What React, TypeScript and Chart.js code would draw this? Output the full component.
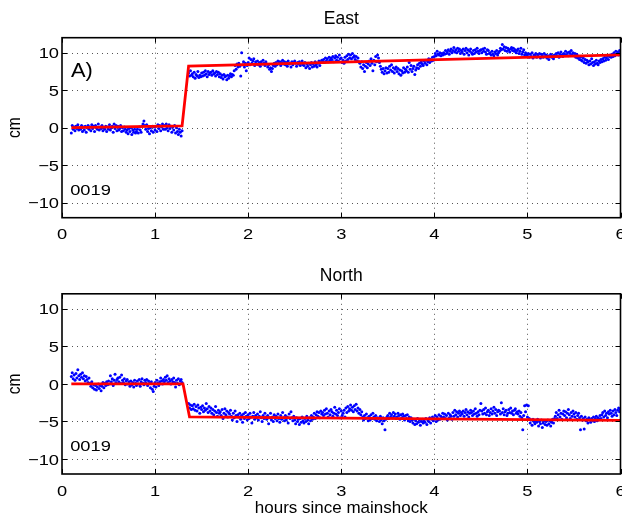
import React, { useEffect, useRef } from "react";
import { Chart, registerables } from "chart.js";

Chart.register(...registerables);

// ---------- axes ----------
const X_MIN = 0;
const X_MAX = 6;
const Y_MIN = -12;
const Y_MAX = 12;
const X_TICKS = [0, 1, 2, 3, 4, 5, 6];
const X_TICK_LABELS = ["0", "1", "2", "3", "4", "5", "6"];
const Y_TICKS = [-10, -5, 0, 5, 10];
const Y_TICK_LABELS = ["\u221210", "\u22125", "0", "5", "10"];

const X_LABEL = "hours since mainshock";
const Y_LABEL = "cm";
const STATION = "0019";
const PANEL_TAG = "A)";
const TITLES = ["East", "North"];

// ---------- epochs (hours) ----------
const SAMPLE_STEP = 0.01; // hours between GPS epochs
const PRE_START = 0.1; // first epoch before the offset
const POST_START = 1.36; // first epoch after the offset

// ---------- East component (cm) ----------
const eastPre = [
  -0.7, 0.3, -0.2, 0.1, -0.4, 0.2, -0.1, 0.4, -0.3, 0.0,
  -0.2, 0.3, -0.5, 0.1, -0.3, 0.2, -0.6, 0.0, 0.3, -0.2,
  0.1, -0.4, 0.4, -0.1, 0.2, -0.5, 0.3, 0.0, -0.2, 0.5,
  -0.3, 0.1, -0.1, 0.3, -0.4, 0.0, -0.2, 0.2, -0.5, 0.1,
  -0.2, 0.4, -0.3, 0.0, 0.2, -0.6, 0.5, -0.1, 0.3, -0.4,
  0.2, -0.3, -0.1, 0.3, -0.5, 0.0, -0.4, 0.1, -0.2, -0.6,
  -0.3, -0.8, -0.1, -0.5, 0.0, -0.9, -0.3, -0.6, -0.2, -0.7,
  -0.5, -0.2, -0.7, 0.1, -0.3, -0.6, 0.2, 0.5, 0.9, 0.3,
  -0.2, 0.4, -0.5, -0.1, -0.8, 0.0, -0.4, 0.2, -0.6, 0.1,
  -0.3, 0.2, -0.5, 0.4, -0.1, 0.3, -0.4, 0.1, 0.5, -0.2,
  0.3, -0.2, 0.5, 0.0, -0.4, 0.4, -0.1, 0.2, -0.6, 0.1,
  -0.3, 0.3, -0.7, 0.0, -0.5, -0.9, -0.2, -0.6, -1.1, -0.4,
];

const eastPost = [
  7.3, 6.9, 7.6, 7.0,
  7.2, 6.8, 7.4, 6.6, 7.1, 6.9, 7.5, 6.7, 7.0, 6.8,
  7.3, 6.9, 7.4, 7.0, 7.6, 7.2, 6.8, 7.5, 7.1, 7.3,
  7.4, 7.0, 7.6, 7.2, 7.3, 6.9, 7.5, 7.1, 7.4, 6.8,
  7.2, 6.7, 7.0, 6.5, 7.1, 6.8, 6.9, 6.4, 7.0, 6.6,
  6.9, 7.2, 6.8, 7.1, 7.0, 7.6, 8.3, 7.8, 8.5, 8.1,
  8.6, 8.2, 6.9, 10.0, 8.4, 8.8, 8.1, 8.6, 7.6, 8.3,
  8.7, 9.3, 8.4, 9.1, 8.6, 8.9, 9.2, 8.3, 8.8, 8.5,
  8.9, 8.4, 8.7, 8.2, 8.8, 8.5, 9.0, 8.6, 8.3, 8.8,
  8.5, 8.1, 8.4, 7.8, 8.0, 7.5, 7.9, 8.3, 8.6, 8.2,
  8.7, 8.4, 8.9, 8.6, 8.8, 8.3, 8.7, 9.0, 8.5, 8.8,
  8.4, 8.7, 8.2, 8.9, 8.5, 8.6, 8.1, 8.8, 8.4, 8.7,
  8.9, 8.6, 8.2, 8.7, 8.5, 8.8, 8.3, 8.6, 8.9, 8.4,
  8.3, 8.7, 8.0, 8.5, 8.2, 8.6, 7.9, 8.4, 8.7, 8.1,
  8.5, 8.2, 8.8, 8.4, 8.1, 8.6, 8.9, 8.3, 8.7, 9.0,
  8.8, 9.1, 8.7, 9.3, 8.9, 9.2, 8.8, 9.4, 9.0, 9.3,
  9.1, 9.5, 8.8, 9.3, 9.6, 9.0, 9.4, 8.9, 9.7, 9.2,
  9.3, 8.7, 9.0, 8.6, 9.4, 8.9, 9.6, 9.1, 9.8, 9.3,
  9.7, 9.2, 9.9, 9.4, 9.6, 9.1, 9.5, 8.9, 9.3, 8.8,
  8.6, 8.1, 8.8, 7.9, 8.4, 7.5, 8.2, 8.7, 8.0, 8.5,
  8.9, 8.3, 9.2, 8.6, 7.6, 9.0, 8.4, 9.5, 8.8, 9.7,
  9.3, 8.7, 8.2, 7.8, 7.4, 7.9, 7.2, 7.6, 8.0, 7.3,
  7.9, 7.4, 8.2, 7.7, 8.4, 7.5, 8.0, 7.3, 7.8, 8.1,
  7.5, 7.9, 7.2, 7.7, 7.0, 7.6, 7.3, 8.0, 7.4, 7.8,
  7.6, 8.1, 7.4, 8.7, 7.8, 8.3, 7.5, 7.9, 8.2, 7.1,
  7.7, 8.0, 8.4, 7.9, 8.6, 8.2, 8.8, 8.5, 8.3, 8.9,
  8.6, 9.0, 8.4, 8.8, 9.2, 8.7, 9.1, 8.9, 9.4, 9.0,
  9.5, 9.9, 9.6, 10.2, 9.8, 9.7, 10.0, 9.6, 9.9, 9.7,
  10.0, 9.8, 10.3, 9.9, 10.1, 10.4, 9.8, 10.2, 10.5, 10.0,
  10.3, 10.7, 10.1, 10.4, 10.0, 10.6, 10.2, 10.5, 9.9, 10.3,
  10.1, 10.5, 9.8, 10.3, 10.6, 10.0, 10.4, 9.7, 10.2, 10.5,
  10.0, 9.8, 10.3, 9.9, 10.4, 10.1, 10.6, 10.2, 9.9, 10.3,
  10.4, 10.0, 10.5, 10.2, 10.6, 10.1, 9.8, 10.4, 10.3, 9.9,
  10.0, 9.7, 10.2, 9.8, 9.6, 10.1, 9.9, 10.3, 9.7, 10.0,
  10.2, 10.6, 10.4, 11.1, 10.5, 10.8, 10.3, 10.7, 10.2, 10.6,
  10.4, 10.1, 10.5, 10.7, 10.3, 10.6, 10.2, 10.4, 10.0, 10.3,
  10.5, 9.9, 10.2, 10.6, 9.8, 10.1, 10.4, 9.7, 10.0, 9.8,
  9.6, 9.9, 9.4, 9.8, 9.5, 10.0, 9.3, 9.7, 9.6, 9.9,
  9.4, 9.7, 9.5, 9.9, 9.3, 9.8, 9.6, 9.4, 9.9, 9.5,
  9.7, 9.3, 9.6, 9.1, 9.5, 9.8, 9.4, 9.6, 9.2, 9.7,
  9.5, 9.9, 9.6, 10.0, 9.4, 9.8, 10.1, 9.7, 9.5, 9.9,
  9.8, 10.2, 9.7, 10.0, 9.6, 10.1, 9.9, 10.3, 9.7, 10.0,
  9.6, 9.9, 9.4, 9.8, 9.3, 9.5, 9.1, 9.4, 9.0, 8.9,
  9.3, 8.7, 9.1, 8.6, 9.0, 8.8, 8.4, 8.9, 8.5, 9.2,
  8.7, 8.3, 8.8, 8.5, 9.0, 8.6, 8.4, 8.9, 8.7, 9.1,
  8.8, 9.2, 8.9, 9.4, 9.0, 9.3, 9.6, 9.1, 9.5, 9.7,
  9.4, 9.8, 9.5, 10.0, 9.6, 10.2, 9.8, 10.1, 9.7, 10.3,
  10.0,
];

// ---------- North component (cm) ----------
const northPre = [
  1.0, 1.5, 0.7, 1.2, 0.5, 1.4, 0.8, 1.9, 1.1, 0.6,
  1.3, 0.9, 1.5, 0.7, 1.1, 0.4, 1.0, 0.6, 0.2, 0.8,
  0.1, -0.3, 0.3, -0.5, -0.1, -0.7, -0.2, -0.8, -0.4, 0.0,
  -0.6, -0.2, -0.9, -0.3, 0.2, -0.5, 0.1, -0.2, 0.3, -0.1,
  0.4, 0.0, 1.1, 0.3, 0.7, -0.2, 0.5, 1.3, 0.2, 0.6,
  0.8, 0.3, 0.9, 0.1, 1.2, 0.5, 0.2, 0.7, -0.1, 0.4,
  0.6, 0.0, 0.3, -0.3, 0.4, -0.1, 0.2, -0.4, 0.5, 0.1,
  -0.2, 0.4, 0.0, 0.6, -0.3, 0.3, 0.7, 0.1, -0.1, 0.5,
  0.2, 0.6, -0.2, 0.4, 0.1, -0.5, 0.3, -0.7, -1.0, -0.3,
  0.2, -0.4, 0.5, 0.1, -0.2, 0.3, 0.8, 0.4, 0.0, 0.6,
  0.3, 0.9, 0.5, 1.1, 0.2, 0.7, 0.4, 0.0, 0.6, 0.3,
  0.8, 0.2, -0.4, 0.5, 0.1, 0.7, -0.1, 0.4, 0.6, 0.2,
];

const northPost = [
  -2.6, -3.2, -2.8, -3.4,
  -2.9, -3.3, -2.7, -3.5, -3.0, -3.6, -2.8, -3.2, -3.9, -3.1,
  -3.4, -2.9, -3.7, -3.2, -3.5, -2.6, -3.3, -3.8, -3.0, -3.6,
  -3.2, -3.9, -3.4, -4.1, -3.6, -3.0, -3.8, -4.3, -3.5, -3.9,
  -3.7, -4.2, -3.4, -4.6, -3.9, -3.3, -4.1, -3.6, -4.4, -3.8,
  -4.0, -3.5, -4.3, -4.8, -3.9, -4.5, -3.6, -4.2, -5.0, -4.1,
  -4.4, -3.9, -4.7, -4.2, -5.1, -4.0, -4.6, -3.8, -4.3, -4.8,
  -4.1, -4.6, -3.9, -4.4, -5.2, -4.3, -3.8, -4.7, -4.2, -4.5,
  -4.0, -4.8, -4.3, -3.7, -4.5, -5.0, -4.2, -4.6, -3.9, -4.4,
  -4.7, -4.2, -5.3, -4.5, -3.9, -4.8, -4.4, -5.0, -4.1, -4.6,
  -4.3, -4.9, -4.0, -4.6, -5.1, -4.2, -4.7, -3.8, -4.5, -4.9,
  -4.2, -4.8, -4.4, -5.2, -4.0, -4.6, -3.7, -4.5, -4.9, -4.3,
  -4.8, -5.3, -4.5, -5.0, -4.7, -5.4, -4.6, -5.1, -4.4, -4.9,
  -5.2, -4.6, -5.0, -4.3, -4.8, -5.3, -4.5, -4.9, -4.2, -4.7,
  -4.4, -3.9, -4.6, -4.1, -3.7, -4.3, -3.8, -4.5, -3.6, -4.0,
  -3.8, -4.2, -3.5, -4.0, -3.3, -3.9, -4.4, -3.6, -4.1, -3.4,
  -3.7, -4.3, -3.9, -3.1, -4.0, -3.5, -4.2, -3.8, -3.3, -4.5,
  -3.6, -4.2, -3.9, -3.5, -4.4, -3.2, -3.8, -3.0, -3.6, -3.3,
  -2.8, -3.5, -3.1, -3.7, -2.9, -3.4, -2.7, -3.6, -3.2, -3.9,
  -3.4, -4.1, -3.7, -4.4, -4.8, -4.2, -4.6, -4.0, -4.5, -4.9,
  -4.3, -4.8, -4.1, -4.6, -3.9, -4.4, -4.7, -4.2, -4.9, -4.5,
  -4.6, -5.0, -4.3, -4.8, -5.3, -4.5, -4.9, -6.1, -4.7, -4.4,
  -4.2, -4.6, -3.9, -4.4, -4.1, -4.5, -3.8, -4.3, -4.0, -4.6,
  -4.4, -3.9, -4.2, -4.7, -4.1, -4.5, -4.0, -4.3, -4.8, -4.2,
  -4.6, -4.1, -4.9, -4.4, -5.0, -4.5, -4.8, -5.2, -4.7, -5.4,
  -4.9, -5.3, -4.6, -5.1, -4.8, -5.5, -5.0, -4.7, -5.2, -4.9,
  -5.1, -4.6, -5.4, -4.8, -5.0, -4.5, -5.2, -4.7, -4.4, -4.9,
  -4.6, -4.2, -5.0, -4.4, -4.8, -4.1, -4.7, -4.3, -4.5, -3.9,
  -4.4, -4.0, -4.6, -4.2, -4.8, -3.9, -4.5, -4.1, -4.3, -4.7,
  -3.8, -4.3, -3.5, -4.1, -3.7, -4.4, -3.9, -3.6, -4.2, -3.8,
  -4.0, -3.6, -4.3, -3.8, -3.4, -4.1, -3.7, -4.4, -3.9, -3.5,
  -3.8, -4.2, -3.6, -4.0, -3.3, -3.9, -4.3, -3.7, -4.1, -3.5,
  -2.6, -3.6, -4.0, -3.4, -3.9, -3.2, -4.1, -3.7, -3.5, -4.2,
  -3.8, -3.3, -4.0, -3.6, -3.1, -3.9, -3.4, -4.2, -3.7, -3.5,
  -3.6, -4.0, -2.5, -3.8, -3.3, -4.1, -3.7, -3.5, -4.2, -3.9,
  -3.4, -3.8, -3.2, -3.9, -3.6, -4.1, -3.5, -3.3, -3.9, -3.7,
  -4.0, -3.6, -4.3, -3.8, -4.5, -6.1, -4.2, -2.9, -3.7, -2.8,
  -4.4, -2.9, -4.6, -5.2, -4.8, -5.5, -4.7, -5.0, -5.3, -4.9,
  -5.1, -4.7, -5.6, -5.0, -5.3, -4.8, -5.8, -5.2, -4.9, -5.4,
  -5.0, -5.5, -4.8, -5.3, -4.9, -5.6, -5.1, -4.7, -5.2, -4.6,
  -4.3, -3.8, -4.6, -4.1, -3.5, -4.4, -3.9, -4.7, -4.0, -3.6,
  -4.2, -3.7, -4.5, -3.9, -3.4, -4.1, -4.6, -3.8, -4.3, -3.6,
  -4.0, -4.4, -3.8, -4.7, -4.2, -3.9, -4.5, -6.1, -4.3, -4.8,
  -4.6, -6.0, -4.4, -4.9, -4.7, -5.2, -4.5, -4.8, -5.1, -4.6,
  -4.8, -4.4, -5.0, -4.6, -4.3, -4.9, -4.5, -4.7, -4.2, -4.6,
  -4.1, -3.8, -4.4, -3.6, -4.2, -3.9, -4.5, -3.7, -4.0, -3.5,
  -3.9, -4.3, -3.6, -4.1, -3.4, -3.8, -4.2, -3.5, -3.2, -3.7,
  -3.4,
];

// ---------- fitted offset model ----------
const eastFitX = [0.1, 1.29, 1.36, 6.0];
const eastFitY = [0.0, 0.25, 8.2, 9.7];
const northFitX = [0.1, 1.3, 1.37, 6.0];
const northFitY = [0.0, 0.0, -4.4, -4.85];

// ---------- styling ----------
const FONT = '"Liberation Sans", Arial, Helvetica, sans-serif';
const DIGIT_STRETCH = 1.18;

type Pt = { x: number; y: number };

function toPoints(start: number, values: number[]): Pt[] {
  return values.map((y, i) => ({ x: +(start + i * SAMPLE_STEP).toFixed(3), y }));
}

function drawText(
  ctx: CanvasRenderingContext2D,
  s: string,
  x: number,
  y: number,
  size: number,
  align: CanvasTextAlign,
  sx = 1
) {
  ctx.save();
  ctx.translate(x, y);
  ctx.scale(sx, 1);
  ctx.font = `${size}px ${FONT}`;
  ctx.textAlign = align;
  ctx.textBaseline = "alphabetic";
  ctx.fillStyle = "#000";
  ctx.fillText(s, 0, 0);
  ctx.restore();
}

type PanelProps = {
  title: string;
  pre: number[];
  post: number[];
  fitX: number[];
  fitY: number[];
  showTag: boolean;
  showXLabel: boolean;
  height: number;
  padTop: number;
  padBottom: number;
};

function Panel(props: PanelProps) {
  const ref = useRef<HTMLCanvasElement | null>(null);

  useEffect(() => {
    const canvas = ref.current;
    if (!canvas) return;

    const decor = {
      id: "matlabDecor",
      beforeDatasetsDraw(chart: any) {
        const { ctx, chartArea: a, scales } = chart;
        const xs = scales.x;
        const ys = scales.y;
        ctx.save();
        ctx.strokeStyle = "#555";
        ctx.lineWidth = 1;
        ctx.setLineDash([1, 4]);
        for (const t of X_TICKS) {
          if (t <= X_MIN || t >= X_MAX) continue;
          const x = Math.round(xs.getPixelForValue(t)) + 0.5;
          ctx.beginPath();
          ctx.moveTo(x, a.top);
          ctx.lineTo(x, a.bottom);
          ctx.stroke();
        }
        for (const t of Y_TICKS) {
          const y = Math.round(ys.getPixelForValue(t)) + 0.5;
          ctx.beginPath();
          ctx.moveTo(a.left, y);
          ctx.lineTo(a.right, y);
          ctx.stroke();
        }
        ctx.restore();
      },
      afterDatasetsDraw(chart: any) {
        const { ctx, chartArea: a, scales } = chart;
        const xs = scales.x;
        const ys = scales.y;
        ctx.save();
        ctx.strokeStyle = "#000";
        ctx.lineWidth = 1.6;
        ctx.strokeRect(a.left, a.top, a.right - a.left, a.bottom - a.top);
        ctx.lineWidth = 1;
        const TL = 5;
        for (const t of X_TICKS) {
          const x = Math.round(xs.getPixelForValue(t)) + 0.5;
          ctx.beginPath();
          ctx.moveTo(x, a.bottom);
          ctx.lineTo(x, a.bottom - TL);
          ctx.moveTo(x, a.top);
          ctx.lineTo(x, a.top + TL);
          ctx.stroke();
        }
        for (const t of Y_TICKS) {
          const y = Math.round(ys.getPixelForValue(t)) + 0.5;
          ctx.beginPath();
          ctx.moveTo(a.left, y);
          ctx.lineTo(a.left + TL, y);
          ctx.moveTo(a.right, y);
          ctx.lineTo(a.right - TL, y);
          ctx.stroke();
        }
        ctx.restore();

        X_TICKS.forEach((t, i) => {
          drawText(ctx, X_TICK_LABELS[i], xs.getPixelForValue(t), a.bottom + 21.5, 15.5, "center", DIGIT_STRETCH);
        });
        Y_TICKS.forEach((t, i) => {
          drawText(ctx, Y_TICK_LABELS[i], a.left - 3, ys.getPixelForValue(t) + 5.6, 15.5, "right", DIGIT_STRETCH);
        });

        const cx = (a.left + a.right) / 2;
        drawText(ctx, props.title, cx, a.top - 13.3, 17.5, "center");
        ctx.save();
        ctx.translate(20, (a.top + a.bottom) / 2);
        ctx.scale(1.2, 1);
        ctx.rotate(-Math.PI / 2);
        ctx.font = `15.5px ${FONT}`;
        ctx.textAlign = "center";
        ctx.textBaseline = "alphabetic";
        ctx.fillStyle = "#000";
        ctx.fillText(Y_LABEL, 0, 0);
        ctx.restore();
        if (props.showXLabel) {
          drawText(ctx, X_LABEL, cx, a.bottom + 39.3, 17, "center");
        }
        drawText(ctx, STATION, a.left + 8.2, a.bottom - 22.6, 15.5, "left", DIGIT_STRETCH);
        if (props.showTag) {
          drawText(ctx, PANEL_TAG, a.left + 9, a.top + 39.6, 19.5, "left", 1.12);
        }
      },
    };

    const dots = [...toPoints(PRE_START, props.pre), ...toPoints(POST_START, props.post)];
    const fit = props.fitX.map((x, i) => ({ x, y: props.fitY[i] }));

    const chart = new Chart(canvas, {
      type: "scatter",
      data: {
        datasets: [
          {
            type: "line",
            data: fit,
            borderColor: "#ff0000",
            borderWidth: 2.8,
            pointRadius: 0,
            fill: false,
            tension: 0,
            order: 0,
          } as any,
          {
            type: "scatter",
            data: dots,
            backgroundColor: "#0000ff",
            borderWidth: 0,
            pointRadius: 1.5,
            pointHoverRadius: 1.5,
            order: 1,
          } as any,
        ],
      },
      options: {
        animation: false,
        responsive: false,
        maintainAspectRatio: false,
        devicePixelRatio: 1,
        events: [],
        layout: {
          padding: { left: 62, right: 1, top: props.padTop, bottom: props.padBottom },
        },
        plugins: {
          legend: { display: false },
          tooltip: { enabled: false },
          title: { display: false },
        },
        scales: {
          x: { type: "linear", min: X_MIN, max: X_MAX, display: false },
          y: { type: "linear", min: Y_MIN, max: Y_MAX, display: false },
        },
      },
      plugins: [decor as any],
    });

    return () => chart.destroy();
  }, []);

  return (
    <canvas
      ref={ref}
      width={622}
      height={props.height}
      style={{ display: "block", width: 622, height: props.height }}
    />
  );
}

export default function App() {
  return (
    <div
      style={{
        position: "absolute",
        left: 0,
        top: 0,
        width: 622,
        height: 518,
        background: "#fff",
        overflow: "hidden",
      }}
    >
      <Panel
        title={TITLES[0]}
        pre={eastPre}
        post={eastPost}
        fitX={eastFitX}
        fitY={eastFitY}
        showTag={true}
        showXLabel={false}
        height={260}
        padTop={37.7}
        padBottom={42.3}
      />
      <Panel
        title={TITLES[1]}
        pre={northPre}
        post={northPost}
        fitX={northFitX}
        fitY={northFitY}
        showTag={false}
        showXLabel={true}
        height={258}
        padTop={33.8}
        padBottom={44}
      />
    </div>
  );
}
